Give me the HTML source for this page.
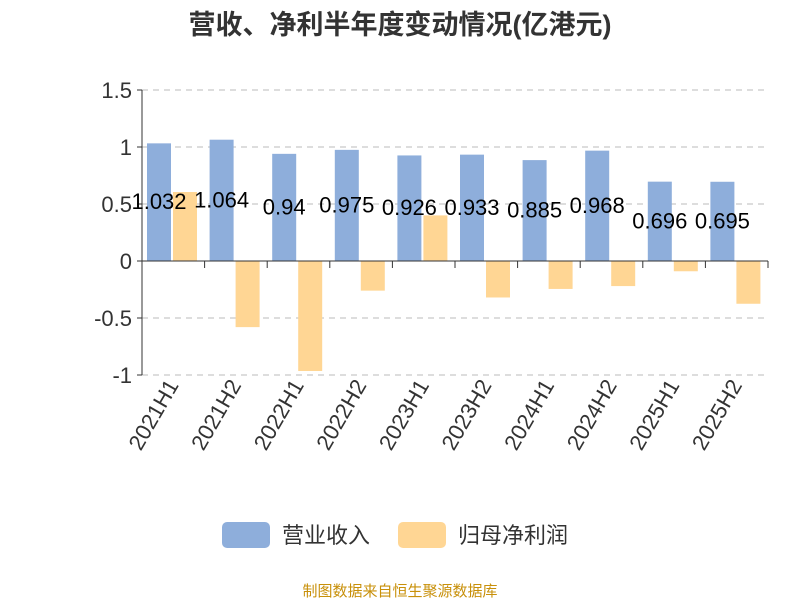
<!DOCTYPE html>
<html><head><meta charset="utf-8"><style>
body{margin:0;background:#fff;width:800px;height:600px;overflow:hidden;font-family:"Liberation Sans","Noto Sans CJK SC",sans-serif;}
</style></head><body>
<svg id="c" width="800" height="600" xmlns="http://www.w3.org/2000/svg">
<text x="400" y="34" text-anchor="middle" font-size="27" font-weight="bold" fill="#333" font-family="Liberation Sans, Noto Sans CJK SC, sans-serif">营收、净利半年度变动情况(亿港元)</text>
<g id="grid"></g><g id="bars"></g><g id="axes"></g><g id="labels"></g>
<g>
<rect x="222" y="522" width="48" height="26" rx="5" fill="#8eaedb"/>
<text x="282" y="543" font-size="22" fill="#333" font-family="Liberation Sans, Noto Sans CJK SC, sans-serif">营业收入</text>
<rect x="398" y="522" width="48" height="26" rx="5" fill="#ffd694"/>
<text x="458" y="543" font-size="22" fill="#333" font-family="Liberation Sans, Noto Sans CJK SC, sans-serif">归母净利润</text>
</g>
<text x="400" y="596" text-anchor="middle" font-size="15" fill="#c8900a" font-family="Liberation Sans, Noto Sans CJK SC, sans-serif">制图数据来自恒生聚源数据库</text>
</svg>
<script>
const categories=["2021H1","2021H2","2022H1","2022H2","2023H1","2023H2","2024H1","2024H2","2025H1","2025H2"];
const revenue=[1.032,1.064,0.94,0.975,0.926,0.933,0.885,0.968,0.696,0.695];
const revenueLabels=["1.032","1.064","0.94","0.975","0.926","0.933","0.885","0.968","0.696","0.695"];
const profit=[0.605,-0.58,-0.965,-0.26,0.40,-0.32,-0.245,-0.22,-0.09,-0.375];
const yTicks=[1.5,1,0.5,0,-0.5,-1];
const yTickLabels=["1.5","1","0.5","0","-0.5","-1"];
const NS="http://www.w3.org/2000/svg";
const x0=142,x1=768,yTop=90,yMax=1.5,yMin=-1,yBot=375;
const y=v=>yTop+(yMax-v)/(yMax-yMin)*(yBot-yTop);
const bw=(x1-x0)/categories.length;
function mk(t,a,p){const e=document.createElementNS(NS,t);for(const k in a)e.setAttribute(k,a[k]);p.appendChild(e);return e;}
const G=document.getElementById('grid'),B=document.getElementById('bars'),A=document.getElementById('axes'),L=document.getElementById('labels');
const ff="Liberation Sans, Noto Sans CJK SC, sans-serif";
yTicks.forEach((t,i)=>{
  if(t!==0){const g=mk('line',{x1:x0,x2:x1,y1:y(t),y2:y(t),stroke:'#bbb','stroke-dasharray':'6,5'},G);
  
  }
  const tk=mk('line',{x1:x0-5,x2:x0,y1:y(t),y2:y(t),stroke:'#333'},A);
  
  
  const tx=mk('text',{x:x0-10,y:y(t)+8,'text-anchor':'end','font-size':22,fill:'#333','font-family':ff},A);
  tx.textContent=yTickLabels[i];
  
  
});
categories.forEach((c,i)=>{
  const cx=x0+i*bw;
  const r=revenue[i];
  const b1=mk('rect',{x:cx+5,y:Math.min(y(r),y(0)),width:24,height:Math.abs(y(r)-y(0)),fill:'#8eaedb'},B);
  
  
  const p=profit[i];
  const b2=mk('rect',{x:cx+31,y:Math.min(y(p),y(0)),width:24,height:Math.abs(y(p)-y(0)),fill:'#ffd694'},B);
  
  
  const lb=mk('text',{x:cx+17,y:(y(r)+y(0))/2+7,'text-anchor':'middle','font-size':22,fill:'#000','font-family':ff},L);
  lb.textContent=revenueLabels[i];
  
  
  const tk=mk('line',{x1:cx+bw,x2:cx+bw,y1:y(0),y2:y(0)+7,stroke:'#333'},A);
  
  
  const xc=cx+bw/2+6;
  const xl=mk('text',{x:xc,y:y(-1)+10,'text-anchor':'end','font-size':22,fill:'#333','font-family':ff,transform:`rotate(-60 ${xc} ${y(-1)+10})`},A);
  xl.textContent=c;
  
  
});
const ya=mk('line',{x1:x0,x2:x0,y1:yTop,y2:yBot,stroke:'#333'},A);


const xa=mk('line',{x1:x0,x2:x1,y1:y(0),y2:y(0),stroke:'#333'},A);


</script>
</body></html>
